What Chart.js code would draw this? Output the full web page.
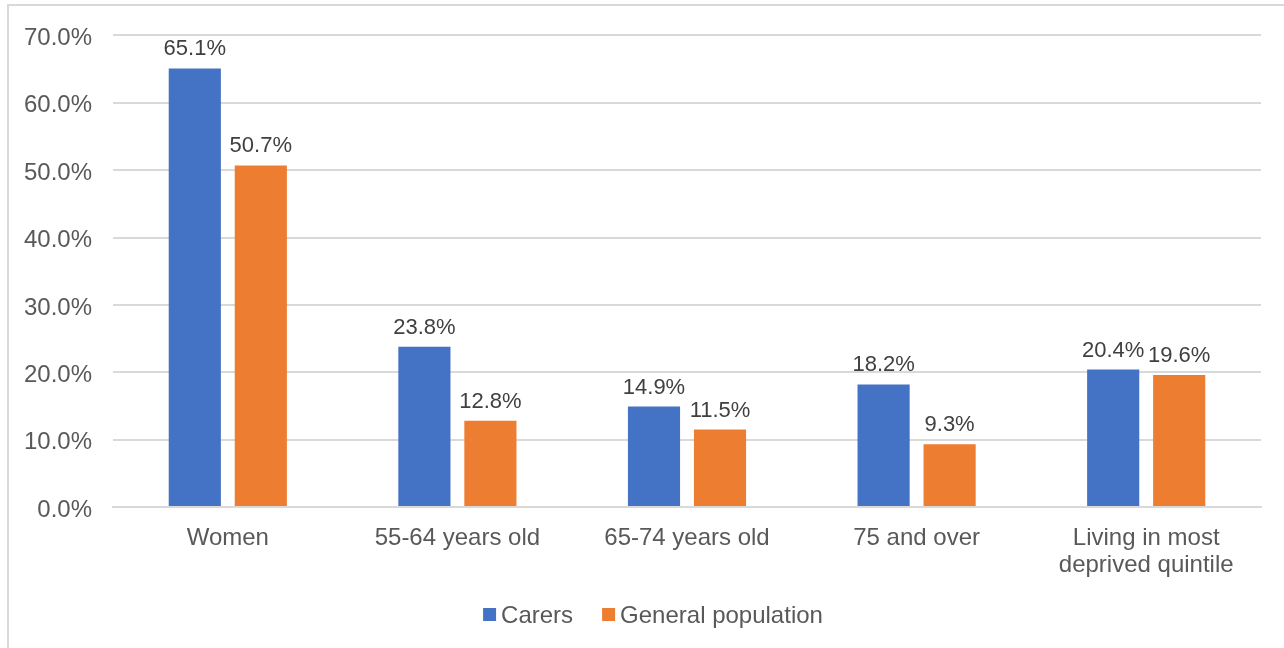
<!DOCTYPE html>
<html>
<head>
<meta charset="utf-8">
<script src="https://cdn.jsdelivr.net/npm/chart.js@4"></script>
<style>
html,body{margin:0;padding:0;background:#fff;}
#wrap{position:relative;width:1284px;height:648px;}
</style>
</head>
<body>
<div id="wrap"><canvas id="c" width="1284" height="648"></canvas></div>
<script>
const categories = ["Women", "55-64 years old", "65-74 years old", "75 and over", ["Living in most", "deprived quintile"]];
const carers = [65.1, 23.8, 14.9, 18.2, 20.4];
const generalPopulation = [50.7, 12.8, 11.5, 9.3, 19.6];
const yTicks = [0, 10, 20, 30, 40, 50, 60, 70];

const FONT = "'Liberation Sans', Arial, sans-serif";

const framePlugin = {
  id: 'frame',
  beforeDraw(chart) {
    const ctx = chart.ctx;
    ctx.save();
    ctx.fillStyle = '#fff';
    ctx.fillRect(0, 0, chart.width, chart.height);
    ctx.strokeStyle = '#D9D9D9';
    ctx.lineWidth = 2;
    ctx.beginPath();
    ctx.moveTo(8, chart.height + 2);
    ctx.lineTo(8, 5);
    ctx.lineTo(chart.width + 2, 5);
    ctx.stroke();
    ctx.restore();
  }
};

const labelPlugin = {
  id: 'valueLabels',
  afterDatasetsDraw(chart) {
    const ctx = chart.ctx;
    ctx.save();
    ctx.font = "22px " + FONT;
    ctx.fillStyle = '#404040';
    ctx.textAlign = 'center';
    ctx.textBaseline = 'bottom';
    chart.data.datasets.forEach((ds, i) => {
      chart.getDatasetMeta(i).data.forEach((bar, j) => {
        ctx.fillText(ds.data[j].toFixed(1) + '%', bar.x, bar.y - 8);
      });
    });
    ctx.restore();
  }
};

const legendPlugin = {
  id: 'bottomLegend',
  afterDraw(chart) {
    const ctx = chart.ctx;
    ctx.save();
    ctx.font = "24px " + FONT;
    ctx.textBaseline = 'middle';
    ctx.textAlign = 'left';
    const box = 13, gapText = 5, gapItem = 29, cy = 615;
    const items = chart.data.datasets.map(ds => ({ text: ds.label, color: ds.backgroundColor, w: ctx.measureText(ds.label).width }));
    let total = 0;
    items.forEach((it, i) => { total += box + gapText + it.w + (i < items.length - 1 ? gapItem : 0); });
    let x = 653 - total / 2;
    items.forEach(it => {
      ctx.fillStyle = it.color;
      ctx.fillRect(x, cy - 7, box, box);
      ctx.fillStyle = '#595959';
      ctx.fillText(it.text, x + box + gapText, cy + 1);
      x += box + gapText + it.w + gapItem;
    });
    ctx.restore();
  }
};

new Chart(document.getElementById('c'), {
  type: 'bar',
  data: {
    labels: categories,
    datasets: [
      { label: 'Carers', data: carers, backgroundColor: '#4472C4', categoryPercentage: 0.575, barPercentage: 0.79 },
      { label: 'General population', data: generalPopulation, backgroundColor: '#ED7D31', categoryPercentage: 0.575, barPercentage: 0.79 }
    ]
  },
  options: {
    responsive: false,
    animation: false,
    devicePixelRatio: 1,
    layout: { padding: { top: 34, right: 23, bottom: 55, left: 0 } },
    plugins: {
      legend: { display: false },
      tooltip: { enabled: false }
    },
    scales: {
      x: {
        grid: { display: false, drawTicks: false },
        border: { color: '#D9D9D9', width: 2 },
        ticks: {
          font: { family: FONT, size: 24, lineHeight: 1.13 },
          color: '#595959',
          padding: 18,
          maxRotation: 0,
          autoSkip: false
        },
        afterFit(scale) { scale.height = 86; }
      },
      y: {
        min: 0, max: 70,
        afterBuildTicks(scale) { scale.ticks = yTicks.map(v => ({ value: v })); },
        grid: { color: '#D9D9D9', lineWidth: 2, drawTicks: false },
        border: { display: false },
        ticks: {
          font: { family: FONT, size: 24 },
          color: '#595959',
          padding: 21,
          labelOffset: 3,
          callback: v => v.toFixed(1) + '%'
        },
        afterFit(scale) { scale.width = 113; }
      }
    }
  },
  plugins: [framePlugin, labelPlugin, legendPlugin]
});
</script>
</body>
</html>
